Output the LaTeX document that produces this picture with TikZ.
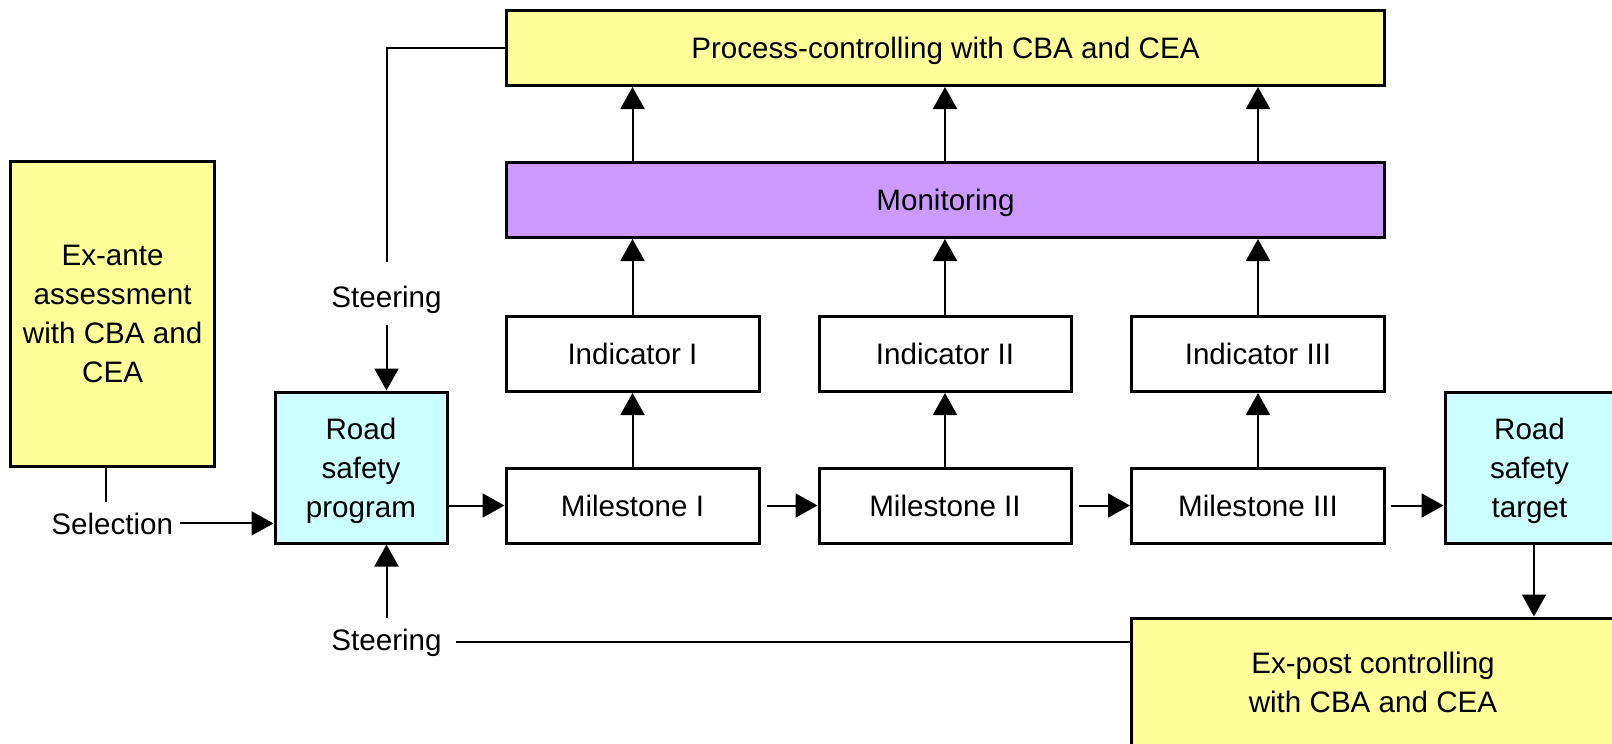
\documentclass[tikz,border=0pt]{standalone}
\usepackage{fontspec}
\setmainfont{Liberation Sans}
\usetikzlibrary{arrows.meta}
\definecolor{yel}{HTML}{FFFF99}
\definecolor{cyn}{HTML}{CCFFFF}
\definecolor{pur}{HTML}{CC99FF}
\begin{document}
\begin{tikzpicture}[x=1pt,y=-1pt,
  font=\fontsize{29.6}{39}\selectfont,
  box/.style={draw, line width=3pt, inner sep=0pt, align=center, text depth=0pt},
  lab/.style={inner sep=0pt, anchor=base},
  conn/.style={line width=2pt},
  arr/.style={conn, -{Triangle[length=22pt,width=24pt]}}]
\useasboundingbox (0,0) rectangle (1612,744);
\clip (0,0) rectangle (1612,744);
% boxes
\node[box, fill=yel, minimum width=878pt, minimum height=75pt] (proc) at (945.5,48) {Process-controlling with CBA and CEA};
\node[box, fill=pur, minimum width=878pt, minimum height=75pt] (mon) at (945.5,200) {Monitoring};
\node[box, minimum width=253pt, minimum height=75pt] (ind1) at (632.5,354) {Indicator I};
\node[box, minimum width=252pt, minimum height=75pt] (ind2) at (945,354) {Indicator II};
\node[box, minimum width=253pt, minimum height=75pt] (ind3) at (1258,354) {Indicator III};
\node[box, minimum width=253pt, minimum height=75pt] (mil1) at (632.5,505.5) {Milestone I};
\node[box, minimum width=252pt, minimum height=75pt] (mil2) at (945,505.5) {Milestone II};
\node[box, minimum width=253pt, minimum height=75pt] (mil3) at (1258,505.5) {Milestone III};
\node[box, fill=cyn, minimum width=172pt, minimum height=151pt] (prog) at (361,467.5) {Road\\safety\\program};
\node[box, fill=cyn, minimum width=169pt, minimum height=151pt] (tgt) at (1529.5,467.5) {Road\\safety\\target};
\node[box, fill=yel, minimum width=204pt, minimum height=305pt] (exante) at (112.6,314) {Ex-ante\\assessment\\with CBA and\\CEA};
\node[box, fill=yel, minimum width=484pt, minimum height=129pt] (expost) at (1373,682.5) {Ex-post controlling\\with CBA and CEA};
% labels
\node[lab] (st1) at (386.5,307.7) {Steering};
\node[lab] (sel) at (112.3,534) {Selection};
\node[lab] (st2) at (386.5,650) {Steering};
% vertical arrows
\foreach \i in {1,2,3}{
  \draw[arr] (mil\i.north) -- (ind\i.south);
  \draw[arr] (ind\i.north) -- (ind\i.north |- mon.south);
  \draw[arr] (ind\i.north |- mon.north) -- (ind\i.north |- proc.south);
}
% horizontal arrows
\draw[arr] (prog.east |- mil1.west) -- (mil1.west);
\draw[arr, shorten <=6pt] (mil1.east) -- (mil2.west);
\draw[arr, shorten <=6pt] (mil2.east) -- (mil3.west);
\draw[arr, shorten <=5pt] (mil3.east) -- (mil3.east -| tgt.west);
\draw[arr] ([xshift=4.5pt]tgt.south) -- ([xshift=4.5pt]tgt.south |- expost.north);
% steering and selection
\draw[conn, shorten <=24pt] (st1.north) |- (proc.west);
\draw[arr, shorten <=11pt] (st1.south) -- (st1.south |- prog.north);
\draw[conn, shorten >=10pt] ([xshift=-7pt]exante.south) -- ([xshift=-7pt]exante.south |- sel.north);
\draw[arr, shorten <=7pt] (sel.east) -- (sel.east -| prog.west);
\draw[arr, shorten <=10pt] (st2.north) -- (st2.north |- prog.south);
\draw[conn, shorten <=14pt] (st2.east) -- (st2.east -| expost.west);
\end{tikzpicture}
\end{document}
